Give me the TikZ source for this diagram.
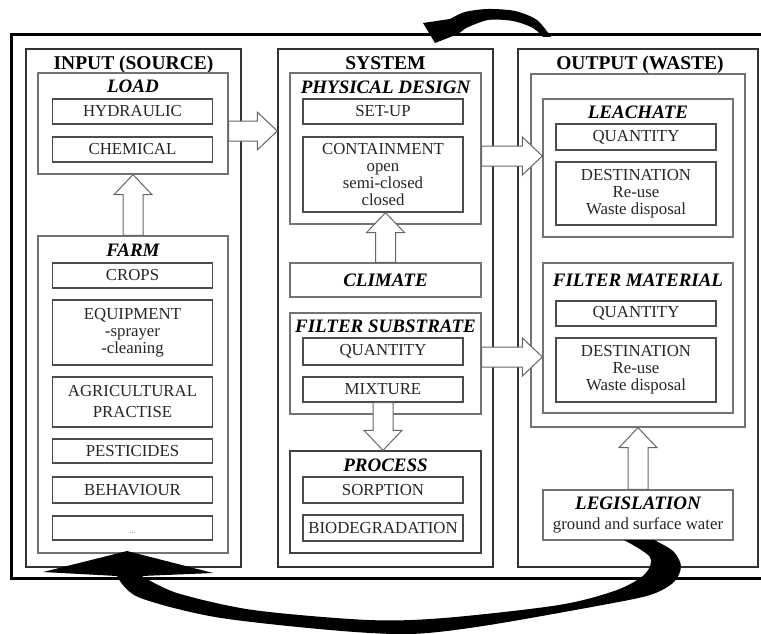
\documentclass[tikz,border=0pt]{standalone}
\usepackage{fontspec}
\setmainfont{Liberation Serif}
\usepackage{tikz}
\usetikzlibrary{calc}

\begin{document}
\begin{tikzpicture}[x=1pt, y=-1pt,
    col/.style={draw=black!80, line width=1.5pt, minimum height=518pt, inner sep=0pt},
    grp/.style={draw=black!55, line width=1.3pt, inner sep=0pt, minimum width=190pt},
    item/.style={draw=black!70, line width=1.2pt, fill=white, inner sep=0pt, minimum width=160pt, align=center, text=black!85, font=\fontsize{16.8}{17}\selectfont},
    ttl/.style={anchor=base, font=\fontsize{19.5}{21}\selectfont\bfseries},
    sub/.style={anchor=base, font=\fontsize{19}{21}\selectfont\bfseries\itshape},
    fat/.style={draw=black!60, fill=white, line width=1pt, to path={
        let \p1=(\tikztostart), \p2=(\tikztotarget),
            \n1={veclen(\x2-\x1,\y2-\y1)},
            \n2={(\x2-\x1)/\n1}, \n3={(\y2-\y1)/\n1} in
        ({\x1-10*\n3},{\y1+10*\n2}) -- ({\x2-20*\n2-10*\n3},{\y2-20*\n3+10*\n2})
        -- ({\x2-20*\n2-19*\n3},{\y2-20*\n3+19*\n2}) -- (\p2)
        -- ({\x2-20*\n2+19*\n3},{\y2-20*\n3-19*\n2}) -- ({\x2-20*\n2+10*\n3},{\y2-20*\n3-10*\n2})
        -- ({\x1+10*\n3},{\y1-10*\n2}) -- cycle}},
    swoosh/.style={fill=black}]

    % Frame
    \useasboundingbox (0,0) rectangle (761,634);
    \clip (0,0) rectangle (761,634);
    \draw[line width=3pt] (11.5,35) rectangle (764,578);

    % Columns
    \node[col, minimum width=215pt] (incol) at (133.5,308) {};
    \node[col, minimum width=215pt] (syscol) at (385.5,308) {};
    \node[col, minimum width=240pt] (outcol) at (638,308) {};
    \node[ttl] (inttl) at ([yshift=-21pt]incol.north) {INPUT (SOURCE)};
    \node[ttl] (systtl) at ([yshift=-21pt]syscol.north) {SYSTEM};
    \node[ttl] (outttl) at ([yshift=-21pt,xshift=2pt]outcol.north) {OUTPUT (WASTE)};

    % Input
    \node[grp, minimum height=101pt] (load) at (133,123.5) {};
    \node[sub] (loadt) at ([yshift=-20pt]load.north) {LOAD};
    \node[item, minimum height=25pt] (hyd) at (132.5,111.5) {HYDRAULIC};
    \node[item, minimum height=25pt] (chem) at (132.5,149.5) {CHEMICAL};

    \node[grp, minimum height=317pt] (farm) at (133,394.5) {};
    \node[sub] (farmt) at ([yshift=-21pt]farm.north) {FARM};
    \node[item, minimum height=25pt] (crops) at (132.5,275.5) {CROPS};
    \node[item, minimum height=65pt] (equip) at (132.5,332.5) {EQUIPMENT\\-sprayer\\-cleaning};
    \node[item, minimum height=50pt] (agri) at (132.5,402) {AGRICULTURAL\\[4pt]PRACTISE};
    \node[item, minimum height=24pt] (pest) at (132.5,451) {PESTICIDES};
    \node[item, minimum height=26pt] (behav) at (132.5,490) {BEHAVIOUR};
    \node[item, minimum height=24pt, text height=10pt, text depth=0pt, text=black!50,
          font=\fontsize{8}{8}\selectfont] (more) at (132.5,528) {...};

    % System
    \node[grp, minimum width=191pt, minimum height=151pt] (pd) at (385.5,148.5) {};
    \node[sub] (pdt) at ([yshift=-21pt]pd.north) {PHYSICAL DESIGN};
    \node[item, minimum height=25pt] (setup) at (383,111.5) {SET-UP};
    \node[item, minimum height=75pt] (cont) at (383,174.5) {CONTAINMENT\\open\\semi-closed\\closed};

    \node[grp, minimum width=191pt, minimum height=34pt,
          font=\fontsize{19}{21}\selectfont\bfseries\itshape] (clim) at (385.5,280) {CLIMATE};

    \node[grp, minimum width=191pt, minimum height=101pt] (fs) at (385.5,363.5) {};
    \node[sub] (fst) at ([yshift=-20pt]fs.north) {FILTER SUBSTRATE};
    \node[item, minimum height=27pt] (fsq) at (383,351.5) {QUANTITY};
    \node[item, minimum height=25pt] (mix) at (383,389.5) {MIXTURE};

    \node[grp, draw=black!75, minimum width=191pt, minimum height=102pt] (proc) at (385.5,502) {};
    \node[sub] (proct) at ([yshift=-21pt]proc.north) {PROCESS};
    \node[item, minimum height=26pt] (sorp) at (383,490) {SORPTION};
    \node[item, minimum height=26pt] (biod) at (383,528) {BIODEGRADATION};

    % Output
    \node[grp, minimum width=214pt, minimum height=353pt] (outbox) at (638,250.5) {};
    \node[grp, minimum height=138pt] (leach) at (638,168) {};
    \node[sub] (leacht) at ([yshift=-20pt]leach.north) {LEACHATE};
    \node[item, minimum height=26pt] (lq) at (636,137) {QUANTITY};
    \node[item, minimum height=63pt] (ld) at (636,193.5) {DESTINATION\\Re-use\\Waste disposal};

    \node[grp, minimum height=150pt] (fm) at (638,338) {};
    \node[sub] (fmt) at ([yshift=-24pt]fm.north) {FILTER MATERIAL};
    \node[item, minimum height=25pt] (fq) at (636,313.5) {QUANTITY};
    \node[item, minimum height=64pt] (fd) at (636,370) {DESTINATION\\Re-use\\Waste disposal};

    \node[grp, minimum height=50pt, align=center, text=black!85,
          font=\fontsize{16.8}{20}\selectfont] (legis) at (638,515)
          {{\fontsize{19}{20}\selectfont\bfseries\itshape\color{black}LEGISLATION}\\ground and surface water};

    % Block arrows
    \draw[fat] (farm.north) to (load.south);
    \coordinate (lo) at ([yshift=-7.5pt]load.east);
    \draw[fat] (lo) to (lo -| syscol.west);
    \draw[fat] (clim.north) to (clim.north |- cont.south);
    \coordinate (po) at ([yshift=-7.5pt]pd.east);
    \draw[fat] (po) to (po -| leach.west);
    \coordinate (fo) at ([yshift=6.5pt]fs.east);
    \draw[fat] (fo) to (fo -| fm.west);
    \draw[fat] (mix.south) to (mix.south |- proc.north);
    \draw[fat] (legis.north) to (legis.north |- outbox.south);

    % Feedback loops
    \fill[swoosh] plot[smooth] coordinates {(551,37) (537,20) (515,11) (488,9) (465,12) (450,19)}
        -- (423,23) -- (435,43) -- (458,34)
        -- plot[smooth] coordinates {(466,28) (488,20) (513,21) (533,28) (543,37)} -- cycle;
    \fill[swoosh] plot[smooth] coordinates {(654,540) (673,551) (681,566) (674,582) (650,595)
            (597,606) (483,626) (410,634) (330,630) (215,617) (138,597) (117,576)}
        -- (43,572) -- (127,551) -- (213,573)
        -- plot[smooth] coordinates {(142,576) (177,593) (253,610) (368,620) (444,618)
            (559,605) (617,590) (645,574) (650,557) (624,540)} -- cycle;

\end{tikzpicture}
\end{document}
